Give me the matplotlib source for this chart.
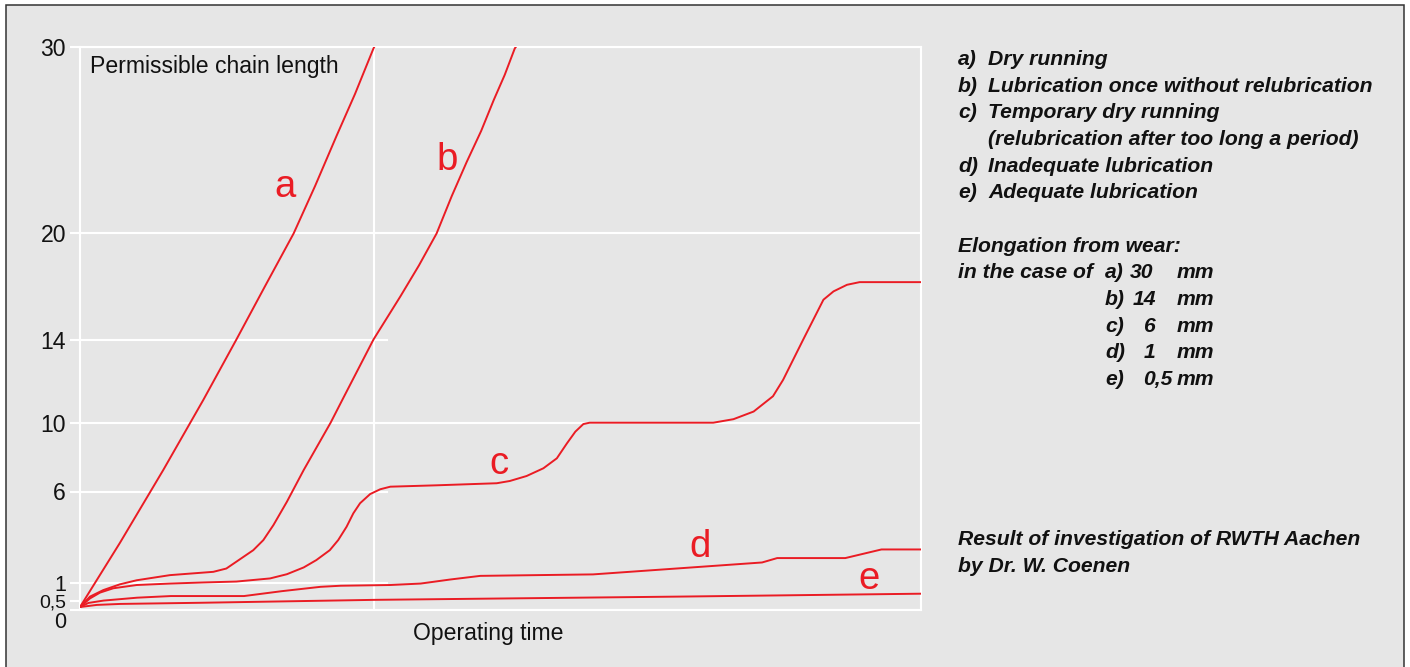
import numpy as np
import matplotlib
matplotlib.use("Agg")
import matplotlib.pyplot as plt
from matplotlib.patches import Rectangle

# ---------------- data ----------------
# operating time in arbitrary units (0..100), permissible chain length values
time_a = [0, 4.76, 9.9, 14.66, 18.6, 22.0, 25.4, 27.95, 30.5, 32.7, 34.9, 35.0]
len_a = [0.15, 3.21, 7.25, 11.1, 14.03, 17.03, 20.0, 22.54, 25.22, 27.47, 29.91, 30.0]

time_b = [0, 1.19, 2.77, 4.76, 6.74, 10.7, 15.85, 17.4, 19.0, 20.6, 21.8, 23.0,
          24.6, 26.6, 29.8, 31.3, 34.9, 38.1, 40.3, 42.4, 44.2, 45.98, 47.7,
          49.2, 50.5, 51.7, 51.85]
len_b = [0.15, 0.63, 0.81, 0.97, 1.16, 1.44, 1.62, 1.8, 2.3, 2.8, 3.35, 4.17,
         5.44, 7.25, 10.0, 11.19, 14.03, 16.46, 18.2, 20.0, 22.0, 23.83, 25.49,
         27.15, 28.49, 29.91, 30.0]

time_c = [0, 1.19, 2.38, 3.96, 6.74, 10.7, 14.66, 18.6, 22.6, 24.6, 26.6, 28.1,
          29.7, 30.7, 31.7, 32.5, 33.3, 34.5, 35.7, 36.9, 42.4, 49.55, 51.1,
          53.1, 55.1, 56.7, 57.9, 58.9, 59.85, 60.6, 75.3, 77.7, 80.1, 82.4,
          83.6, 86.0, 88.4, 89.6, 91.2, 92.7, 100]
len_c = [0.15, 0.58, 0.74, 0.86, 0.95, 0.99, 1.04, 1.09, 1.26, 1.49, 1.86, 2.26,
         2.80, 3.35, 4.08, 4.81, 5.36, 5.86, 6.13, 6.28, 6.36, 6.48, 6.61,
         6.90, 7.35, 7.93, 8.80, 9.48, 9.92, 10.0, 10.0, 10.17, 10.54, 11.28,
         12.07, 14.03, 16.27, 16.74, 17.11, 17.26, 17.26]

time_d = [0, 1.0, 2.8, 6.8, 10.8, 19.5, 24.0, 28.6, 31.0, 36.9, 40.5, 44.0,
          47.6, 61.0, 81.1, 82.9, 91.0, 95.3, 100]
len_d = [0.15, 0.4, 0.52, 0.6, 0.645, 0.645, 0.78, 0.9, 0.93, 0.95, 0.99, 1.2,
         1.4, 1.48, 2.13, 2.37, 2.37, 2.84, 2.84]

time_e = [0, 2.0, 4.8, 14.3, 35.0, 71.3, 100]
len_e = [0.15, 0.28, 0.34, 0.41, 0.54, 0.63, 0.71]

curve_names = ["a", "b", "c", "d", "e"]

y_ticks = [0, 0.5, 1, 6, 10, 14, 20, 30]
y_tick_labels = ["0", "0,5", "1", "6", "10", "14", "20", "30"]
full_grid = [0, 10, 20, 30]
short_grid = [1, 6, 14]
x_grid = [35]

legend_keys = ["a)", "b)", "c)", "", "d)", "e)"]
legend_texts = ["Dry running", "Lubrication once without relubrication",
                "Temporary dry running", "(relubrication after too long a period)",
                "Inadequate lubrication", "Adequate lubrication"]
elong_keys = ["a)", "b)", "c)", "d)", "e)"]
elong_values = ["30", "14", "6", "1", "0,5"]
elong_unit = "mm"

# ---------------- layout ----------------
W, H, DPI = 1410, 667, 100
BG = "#e6e6e6"
RED = "#ea1c24"
TXT = "#111111"
plt.rcParams["font.family"] = ["Liberation Sans", "DejaVu Sans"]

fig = plt.figure(figsize=(W / DPI, H / DPI), dpi=DPI, facecolor="white")


def fx(px):
    return px / W


def fy(py):
    return 1 - py / H


frame = Rectangle((fx(6), fy(680)), fx(1403.5) - fx(6), fy(5) - fy(680),
                  transform=fig.transFigure, facecolor=BG, edgecolor="#333333",
                  lw=1.1, zorder=-5)
fig.add_artist(frame)

ax_left, ax_right, ax_top, ax_bottom = 80, 921, 46.7, 609.5
ax = fig.add_axes([fx(ax_left), fy(ax_bottom), fx(ax_right) - fx(ax_left),
                   fy(ax_top) - fy(ax_bottom)])
ax.set_facecolor("none")

# nonlinear value axis as drawn in the original
scale_pos = [0, 8.2, 26.3, 118, 186.8, 269.5, 376, 562.8]


def fwd(v):
    return np.interp(v, y_ticks, scale_pos)


def inv(p):
    return np.interp(p, scale_pos, y_ticks)


ax.set_yscale("function", functions=(fwd, inv))
ax.set_xlim(0, 100)
ax.set_ylim(0, 30)

for v in full_grid:
    ax.axhline(v, color="white", lw=1.5, zorder=1)
short_frac = (387 - ax_left) / (ax_right - ax_left)
for v in short_grid:
    ax.axhline(v, xmin=0, xmax=short_frac, color="white", lw=1.5, zorder=1)
for v in x_grid:
    ax.axvline(v, color="white", lw=1.5, zorder=1)
for s in ax.spines.values():
    s.set_color("white")
    s.set_linewidth(1.5)

ax.set_yticks(y_ticks)
ax.set_yticklabels([("" if t == "0" else t) for t in y_tick_labels])
ax.yaxis.set_minor_locator(matplotlib.ticker.NullLocator())
ax.tick_params(axis="y", color="white", length=7.2, width=1.5, pad=2.9,
               labelsize=16.6, labelcolor=TXT)
small_sizes = {"1": 15.5, "0,5": 14.0}
for lab, txt in zip(ax.get_yticklabels(), y_tick_labels):
    if txt in small_sizes:
        lab.set_fontsize(small_sizes[txt])
ax.set_xticks([])
fig.text(fx(66), fy(627.5), y_tick_labels[0], ha="right", va="baseline",
         size=15.5, color=TXT)

series = [(time_a, len_a), (time_b, len_b), (time_c, len_c),
          (time_d, len_d), (time_e, len_e)]
for t, l in series:
    ax.plot(t, l, color=RED, lw=1.4, zorder=3, solid_joinstyle="round",
            solid_capstyle="round")

label_pos = [(285.5, 197), (446.7, 170), (499, 474), (700, 557.3), (869, 589)]
for name, (px, py) in zip(curve_names, label_pos):
    fig.text(fx(px), fy(py), name, ha="center", va="baseline", size=27.5,
             color=RED)

fig.text(fx(90), fy(73.3), "Permissible chain length", ha="left",
         va="baseline", size=16.6, color=TXT)
fig.text(fx(413), fy(640), "Operating time", ha="left", va="baseline",
         size=16.6, color=TXT)

bi = dict(size=15.2, color=TXT, weight="bold", style="italic", va="baseline",
          ha="left")
for i, (k, t) in enumerate(zip(legend_keys, legend_texts)):
    yb = 65 + i * 26.67
    if k:
        fig.text(fx(958), fy(yb), k, **bi)
    fig.text(fx(988), fy(yb), t, **bi)

fig.text(fx(958), fy(252.3), "Elongation from wear:", **bi)
fig.text(fx(958), fy(278.5), "in the case of", **bi)
val_x = [1130, 1132.3, 1142.7, 1144, 1142.7]
for i, (k, v) in enumerate(zip(elong_keys, elong_values)):
    yb = 278.5 + i * 26.6
    fig.text(fx(1105), fy(yb), k, **bi)
    fig.text(fx(val_x[i]), fy(yb), v, **bi)
    fig.text(fx(1176.7), fy(yb), elong_unit, **bi)

fig.text(fx(958), fy(545), "Result of investigation of RWTH Aachen", **bi)
fig.text(fx(958), fy(571.7), "by Dr. W. Coenen", **bi)

fig.savefig("out.png", dpi=DPI, facecolor="white")
